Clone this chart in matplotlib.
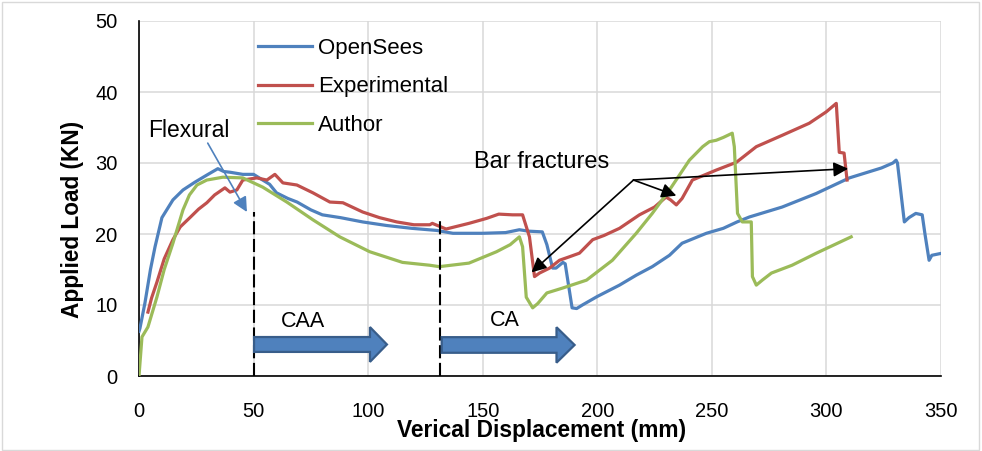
import matplotlib
matplotlib.use("Agg")
import matplotlib.pyplot as plt
from matplotlib.patches import FancyArrow, Rectangle

plt.rcParams['font.family'] = ['Liberation Sans', 'DejaVu Sans']

# ---- load-displacement curves ----
disp_opensees = [0, 0.4, 1.5, 2.6, 5, 7, 10, 14.8, 19.2, 24.4, 29.6, 34.4, 37, 39.7, 45.3,
                 50, 54, 57, 60, 65, 69, 75, 80, 88, 97.6, 108, 119, 130, 137, 150, 160,
                 166, 170, 176, 178, 180.5, 182, 185, 186, 189, 191, 193.5, 200, 209.7,
                 217, 224, 231.5, 237, 247.6, 255, 261, 266.4, 280.7, 295.5, 310, 324,
                 329, 330.4, 331, 334, 336, 339, 341.8, 343, 344.8, 346, 350.5]
load_opensees = [6.3, 6.7, 8.5, 10.3, 15, 18.2, 22.3, 24.8, 26.2, 27.3, 28.3, 29.2, 28.8,
                 28.7, 28.4, 28.4, 27.6, 27.0, 25.8, 25.0, 24.5, 23.4, 22.7, 22.3, 21.7,
                 21.2, 20.8, 20.5, 20.1, 20.1, 20.2, 20.6, 20.4, 20.3, 18.5, 15.2, 15.2,
                 16.0, 15.8, 9.6, 9.5, 10.0, 11.2, 12.8, 14.2, 15.4, 17.0, 18.7, 20.1,
                 20.8, 21.7, 22.4, 23.8, 25.7, 27.9, 29.3, 30.0, 30.4, 30.0, 21.7, 22.3,
                 22.9, 22.7, 20.0, 16.3, 17.0, 17.3]

disp_experimental = [3.9, 5.5, 7.8, 11, 14.8, 18, 22.2, 26, 29.6, 33, 37.5, 39.7, 42.7,
                     45.3, 51.4, 55.8, 59.3, 62.8, 68.9, 75.9, 83.3, 89, 97.6, 105, 112.5,
                     120, 126.9, 128, 134, 144, 151.7, 157, 163, 167.4, 170.4, 172.6,
                     174.8, 179.2, 183.5, 187.9, 192.2, 198, 203, 209.7, 218.4, 225, 230,
                     232, 234.5, 237, 241.5, 251.9, 260.7, 269.4, 280.7, 292.5, 299.9,
                     304.3, 305.6, 307.7, 309]
load_experimental = [9.0, 11.0, 13.2, 16.5, 19.2, 21.0, 22.3, 23.5, 24.4, 25.5, 26.5, 25.9,
                     26.2, 27.6, 27.9, 27.6, 28.4, 27.2, 26.9, 25.8, 24.5, 24.4, 23.1, 22.3,
                     21.7, 21.3, 21.3, 21.5, 20.7, 21.5, 22.2, 22.8, 22.7, 22.7, 19.6, 14.0,
                     14.5, 15.2, 16.3, 16.8, 17.3, 19.2, 19.8, 20.8, 22.7, 23.8, 25.2, 24.8,
                     24.1, 25.0, 27.6, 29.0, 30.1, 32.3, 33.9, 35.6, 37.2, 38.4, 31.5, 31.4,
                     27.6]

disp_author = [0, 1.3, 3.9, 7.8, 11, 14.8, 19.2, 22, 25.3, 29.6, 36.6, 45.3, 54, 64.5,
               75.9, 87.6, 100.7, 115, 126.9, 131, 144, 156, 162, 166, 167.4, 169, 171.8,
               174, 178, 185, 195.3, 206.6, 217, 224, 231.5, 240.2, 246, 248.9, 251.9,
               255, 258.9, 259.8, 261.2, 263.3, 267.2, 267.7, 269.4, 272, 276, 285,
               295.6, 310.8]
load_author = [0, 5.5, 6.9, 11.1, 15.0, 18.7, 23.4, 25.5, 26.9, 27.6, 28.0, 27.9, 26.6,
               24.5, 22.0, 19.6, 17.5, 16.0, 15.6, 15.4, 15.9, 17.5, 18.5, 19.6, 18.2,
               11.1, 9.6, 10.2, 11.7, 12.4, 13.5, 16.3, 20.1, 22.9, 26.2, 30.4, 32.3,
               33.0, 33.2, 33.6, 34.2, 32.3, 22.9, 21.7, 21.7, 14.0, 12.8, 13.5, 14.5,
               15.6, 17.3, 19.6]

series_names = ["OpenSees", "Experimental", "Author"]
series_colors = ["#4F81BD", "#C0504D", "#9BBB59"]

x_ticks = [0, 50, 100, 150, 200, 250, 300, 350]
y_ticks = [0, 10, 20, 30, 40, 50]

fig = plt.figure(figsize=(9.82, 4.51), dpi=100)
ax = fig.add_axes([139 / 982, 1 - 376 / 451, 802 / 982, 355 / 451])

# chart-area border
fig.patches.append(Rectangle((0.002, 0.003), 0.995, 0.993, transform=fig.transFigure,
                             fill=False, edgecolor="#D9D9D9", linewidth=1.0))

for xs, ys, name, col in zip([disp_opensees, disp_experimental, disp_author],
                             [load_opensees, load_experimental, load_author],
                             series_names, series_colors):
    ax.plot(xs, ys, color=col, lw=2.3, label=name, solid_joinstyle="round", zorder=3)

ax.set_xlim(0, 350)
ax.set_ylim(0, 50)
ax.set_xticks(x_ticks)
ax.set_yticks(y_ticks)
ax.grid(True, color="#D9D9D9", lw=1.1, zorder=0)
ax.set_axisbelow(True)
for s in ["top", "right"]:
    ax.spines[s].set_visible(False)
for s in ["left", "bottom"]:
    ax.spines[s].set_color("black")
    ax.spines[s].set_linewidth(1.2)
ax.tick_params(axis="both", length=0, labelsize=14.5, colors="black")
ax.tick_params(axis="y", pad=15.5)
ax.tick_params(axis="x", pad=18.5)

ax.set_xlabel("Verical Displacement (mm)", fontsize=16.4, fontweight="bold")
ax.xaxis.set_label_coords((542 - 139) / 802, (376 - 431) / 355)
ax.xaxis.label.set(va="center", ha="center")
ax.set_ylabel("Applied Load (KN)", fontsize=16.3, fontweight="bold")
ax.yaxis.set_label_coords((73 - 139) / 802, (376 - 219) / 355)
ax.yaxis.label.set(va="center", ha="center")

ax.legend(loc="upper left", bbox_to_anchor=((258 - 139) / 802, (376 - 38) / 355),
          frameon=False, fontsize=16, handlelength=2.45, handletextpad=0.25,
          labelspacing=0.78, borderpad=0, borderaxespad=0)

# phase boundaries
ax.vlines(50, 0, 23.1, colors="black", lw=1.5, linestyles=(0, (6.3, 2.2)), zorder=4)
ax.vlines(131.2, 0, 22.4, colors="black", lw=1.5, linestyles=(0, (6.3, 2.2)), zorder=4)

# phase arrows
block_kw = dict(length_includes_head=True, facecolor="#4F81BD", edgecolor="#385D8A",
                linewidth=1.6, zorder=4)
ax.add_patch(FancyArrow(50.2, 4.44, 58.0, 0, width=2.1, head_width=4.9,
                        head_length=7.4, **block_kw))
ax.add_patch(FancyArrow(132.1, 4.37, 58.0, 0, width=2.2, head_width=5.0,
                        head_length=7.9, **block_kw))
ax.text(71.7, 6.9, "CAA", fontsize=15.5, ha="center", va="baseline", zorder=5)
ax.text(159.5, 7.0, "CA", fontsize=15.5, ha="center", va="baseline", zorder=5)

# flexural note
ax.text(3.9, 33.7, "Flexural", fontsize=16.5, ha="left", va="baseline", zorder=5)
ax.annotate("", xy=(47.1, 23.1), xytext=(30.0, 32.8),
            arrowprops=dict(arrowstyle="-|>", color="#4F81BD", lw=1.2,
                            mutation_scale=22, shrinkA=0, shrinkB=0), zorder=5)

# bar fracture notes
ax.text(175.9, 29.3, "Bar fractures", fontsize=17, ha="center", va="baseline", zorder=5)
for tip in [(171.3, 14.6), (234.5, 25.4), (309.5, 29.2)]:
    ax.annotate("", xy=tip, xytext=(215.8, 27.6),
                arrowprops=dict(arrowstyle="-|>", color="black", lw=1.2,
                                mutation_scale=22, shrinkA=0, shrinkB=0), zorder=5)

fig.savefig("out.png", dpi=100)
